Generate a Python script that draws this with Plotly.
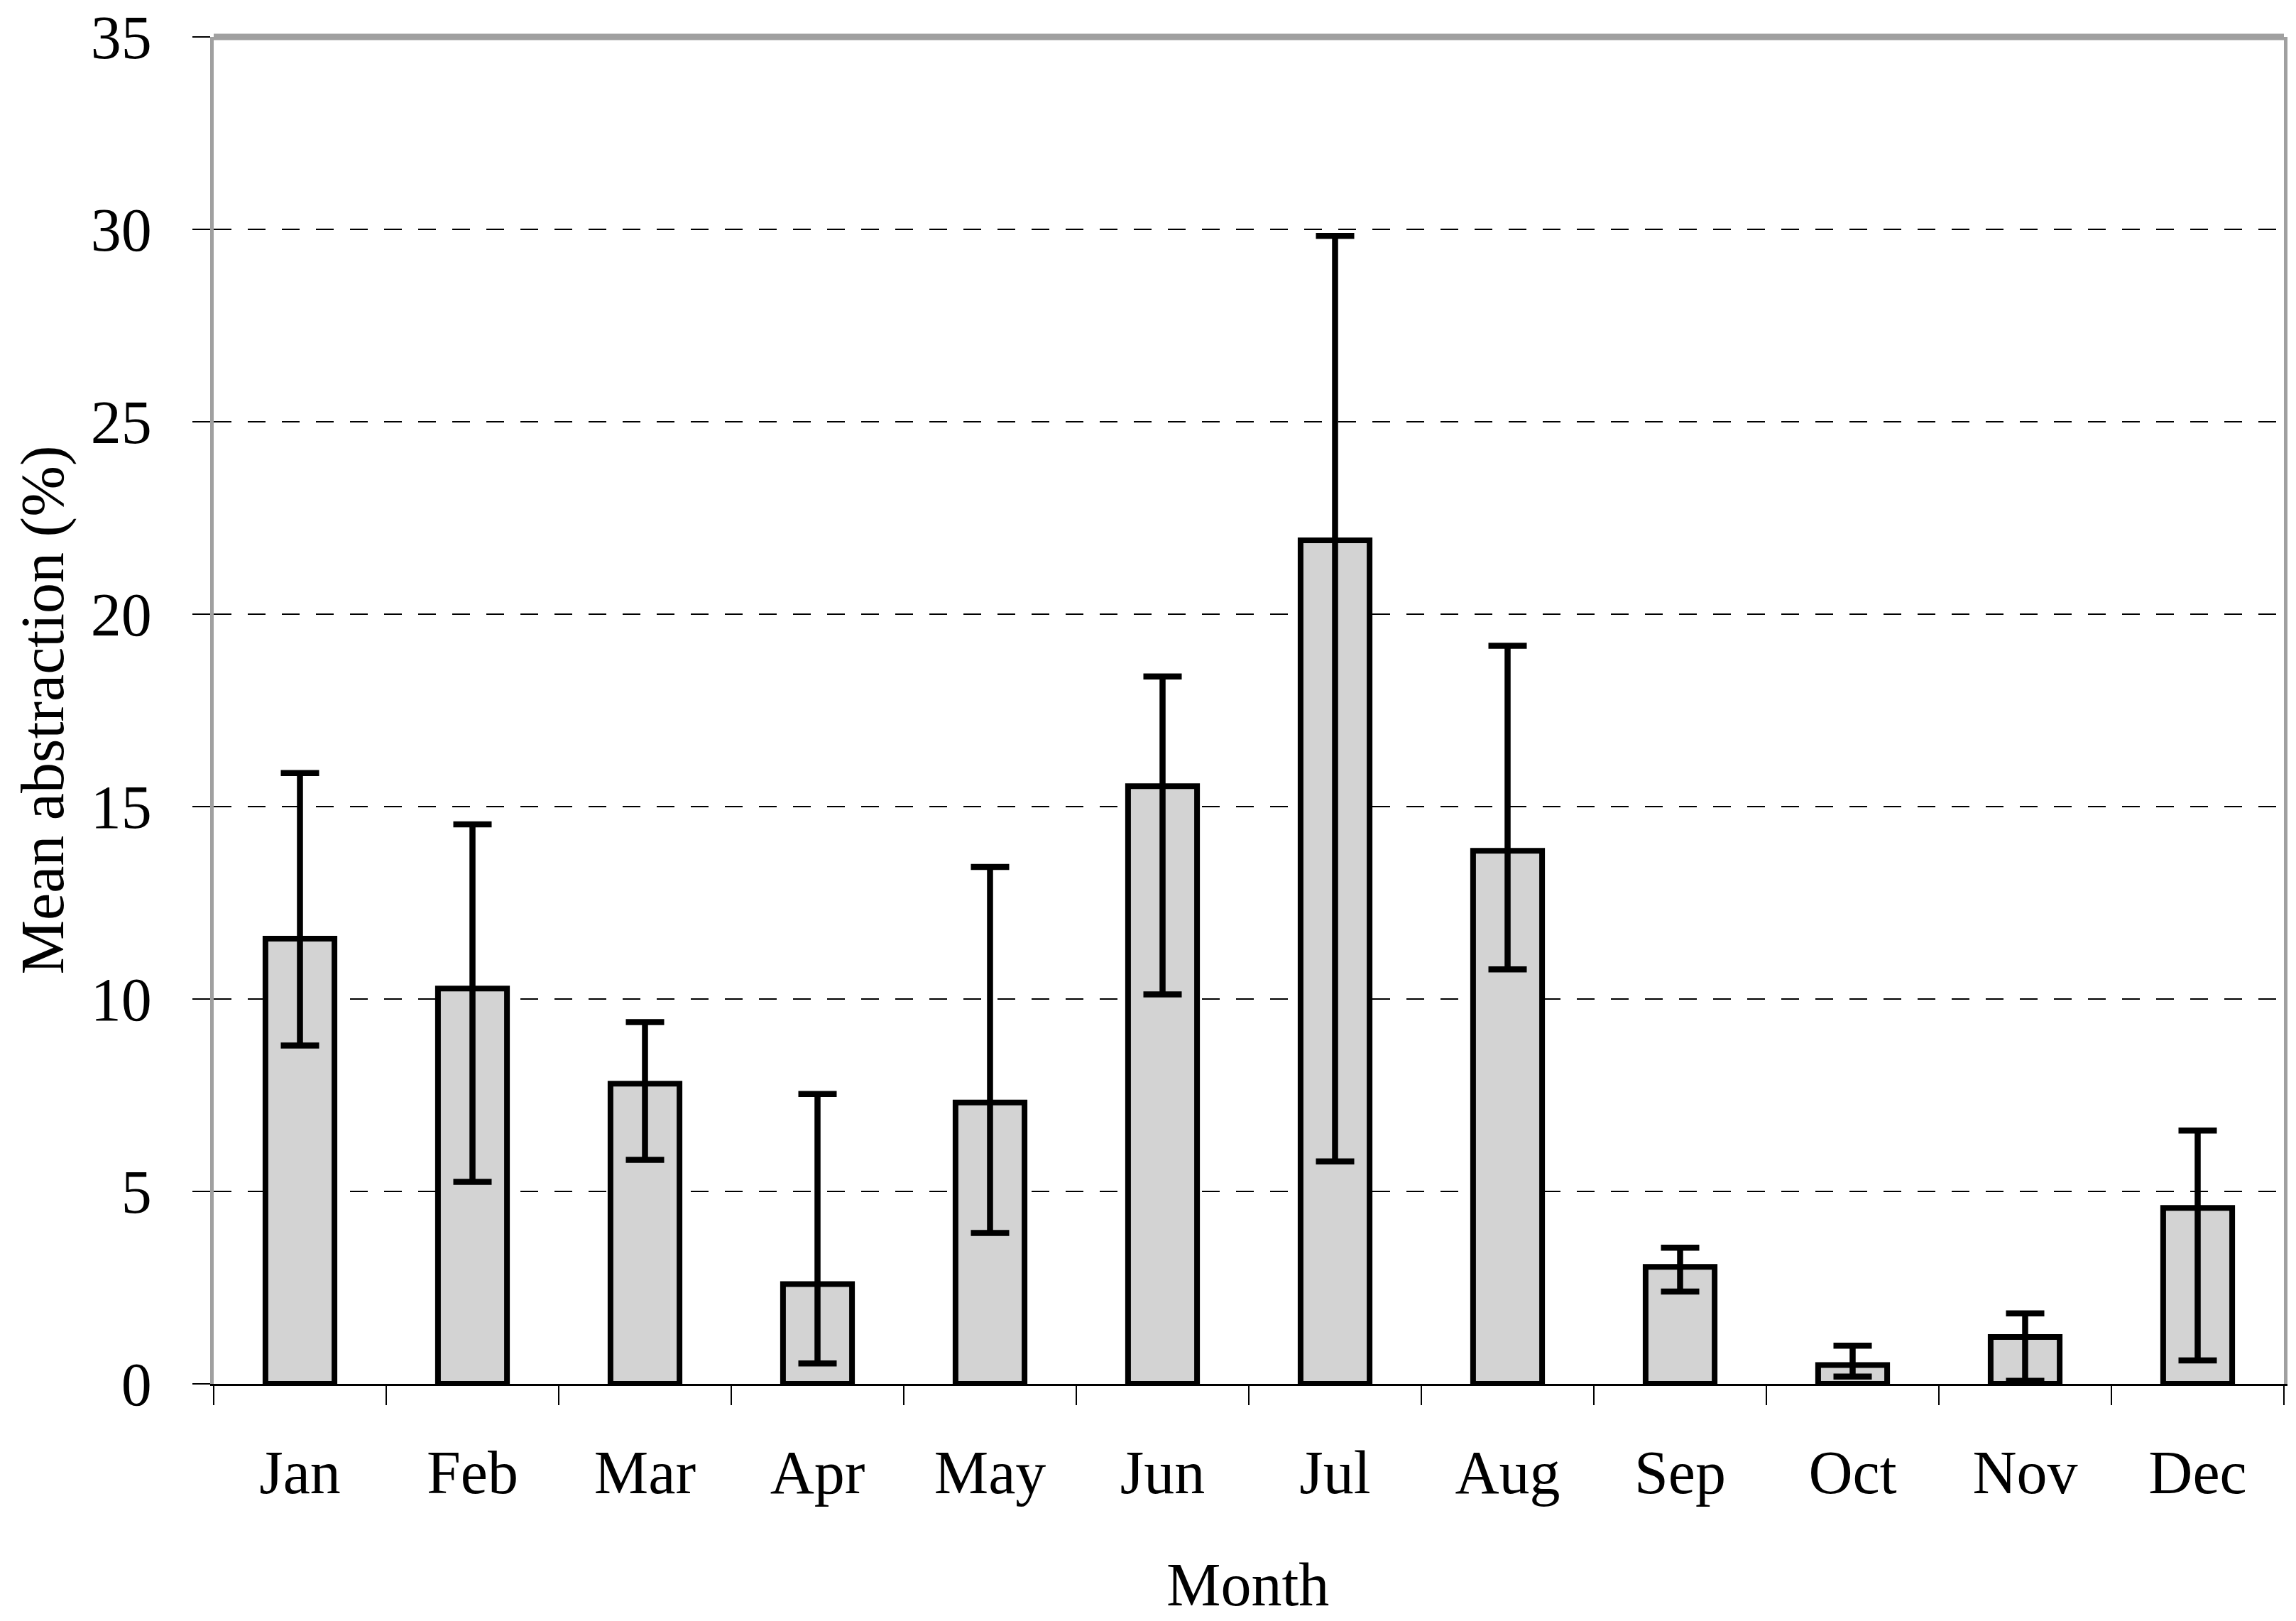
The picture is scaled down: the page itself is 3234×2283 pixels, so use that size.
import plotly.graph_objects as go

months = ["Jan", "Feb", "Mar", "Apr", "May", "Jun", "Jul", "Aug", "Sep", "Oct", "Nov", "Dec"]
mean_abstraction = [11.57, 10.27, 7.80, 2.59, 7.31, 15.53, 21.92, 13.85, 3.04, 0.49, 1.22, 4.57]
err_upper = [15.87, 14.54, 9.40, 7.53, 13.43, 18.38, 29.83, 19.18, 3.54, 0.99, 1.83, 6.58]
err_lower = [8.79, 5.25, 5.82, 0.53, 3.92, 10.12, 5.78, 10.77, 2.40, 0.19, 0.08, 0.61]
y_ticks = [0, 5, 10, 15, 20, 25, 30, 35]

plus = [u - m for u, m in zip(err_upper, mean_abstraction)]
minus = [m - l for m, l in zip(mean_abstraction, err_lower)]

FONT = "Liberation Serif, Times New Roman, serif"
GRAY = "#a0a0a0"

W, H = 3234, 2283
ML, MR, MT, MB = 301, 17, 52, 334
PW, PH = W - ML - MR, H - MT - MB

fig = go.Figure()
fig.add_trace(go.Bar(
    x=months, y=mean_abstraction, width=0.40,
    marker=dict(color="#d3d3d3", line=dict(color="black", width=8)),
    error_y=dict(type="data", symmetric=False, array=plus, arrayminus=minus,
                 color="black", thickness=8.5, width=27),
    showlegend=False,
))

fig.update_layout(
    width=W, height=H,
    margin=dict(l=ML, r=MR, t=MT, b=MB, autoexpand=False),
    paper_bgcolor="white", plot_bgcolor="white",
    font=dict(family=FONT, size=86, color="black"),
    xaxis=dict(
        showline=True, linecolor="black", linewidth=3,
        ticks="outside", tickson="boundaries", ticklen=27, tickwidth=1.5, tickcolor="black",
        ticklabelstandoff=48,
        showgrid=False,
        tickfont=dict(size=86),
    ),
    yaxis=dict(
        range=[0, 35], tickvals=y_ticks, ticktext=[str(v) for v in y_ticks],
        showline=True, linecolor=GRAY, linewidth=5, mirror=True,
        ticks="outside", ticklen=25, tickwidth=1.5, tickcolor="black",
        ticklabelstandoff=40, ticklabeloverflow="allow",
        showgrid=True, gridcolor="black", gridwidth=1.5, griddash="25px,23px",
        zeroline=False,
        tickfont=dict(size=86),
    ),
    shapes=[
        dict(type="line", xref="paper", yref="paper", x0=0, x1=1, y0=1, y1=1,
             line=dict(color=GRAY, width=9), layer="above"),
    ],
    annotations=[
        dict(text="Month", xref="paper", yref="paper",
             x=(1757 - ML) / PW, y=-(2232 - (H - MB)) / PH,
             xanchor="center", yanchor="middle", showarrow=False,
             font=dict(size=86, family=FONT, color="black")),
        dict(text="Mean abstraction (%)", xref="paper", yref="paper",
             x=(59 - ML) / PW, y=0.5, textangle=-90,
             xanchor="center", yanchor="middle", showarrow=False,
             font=dict(size=86, family=FONT, color="black")),
    ],
)

fig.write_html("out.html", config={"displayModeBar": False},
               post_script="document.body.style.margin='0';")
